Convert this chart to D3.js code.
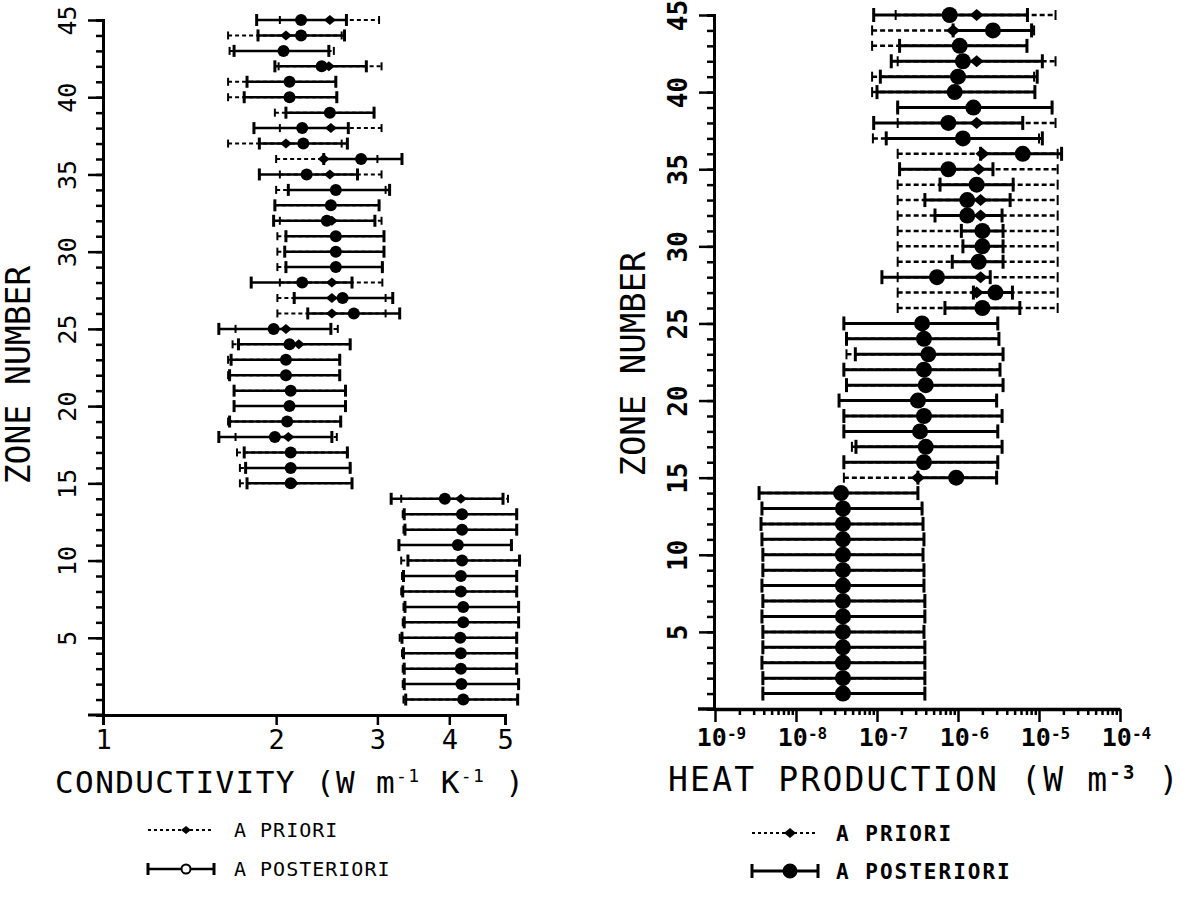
<!DOCTYPE html>
<html>
<head>
<meta charset="utf-8">
<script src="https://cdn.jsdelivr.net/npm/d3@7"></script>
<style>
body { margin: 0; background: #fff; }
text { font-family: "DejaVu Sans Mono", monospace; fill: #000; }
</style>
</head>
<body>
<div id="chart"></div>
<script>
// zones 1 .. 45, every array below is listed from zone 1 up to zone 45
const zones = d3.range(1, 46);

// thermal conductivity (W m-1 K-1)
const condPostLo = [3.36, 3.34, 3.34, 3.33, 3.31, 3.34, 3.35, 3.32, 3.33, 3.39, 3.27, 3.35, 3.34, 3.17,
    1.78, 1.77, 1.76, 1.59, 1.66, 1.69, 1.69, 1.66, 1.67, 1.72, 1.59,
    2.27, 2.15, 1.81, 2.08, 2.07, 2.08, 1.98, 1.99, 2.10, 1.87,
    2.42, 1.87, 1.83, 2.08, 1.76, 1.78, 1.99, 1.69, 1.86, 1.85];
const condPostC = [4.23, 4.20, 4.19, 4.19, 4.18, 4.23, 4.23, 4.19, 4.19, 4.21, 4.14, 4.21, 4.21, 3.93,
    2.12, 2.12, 2.12, 1.99, 2.09, 2.11, 2.12, 2.08, 2.08, 2.11, 1.98,
    2.73, 2.61, 2.22, 2.54, 2.54, 2.54, 2.45, 2.49, 2.54, 2.26,
    2.81, 2.23, 2.22, 2.48, 2.11, 2.11, 2.40, 2.06, 2.21, 2.21];
const condPostHi = [5.26, 5.28, 5.24, 5.24, 5.24, 5.28, 5.28, 5.24, 5.24, 5.30, 5.13, 5.24, 5.24, 4.96,
    2.71, 2.69, 2.66, 2.50, 2.59, 2.64, 2.64, 2.58, 2.58, 2.69, 2.49,
    3.28, 3.19, 2.71, 3.06, 3.08, 3.08, 2.97, 3.02, 3.15, 2.77,
    3.31, 2.66, 2.67, 2.96, 2.55, 2.54, 2.87, 2.47, 2.63, 2.65];
const condPriorLo = [3.33, 3.32, 3.32, 3.31, 3.28, 3.32, 3.33, 3.30, 3.31, 3.30, 3.27, 3.33, 3.32, 3.30,
    1.73, 1.73, 1.71, 1.70, 1.65, 1.69, 1.69, 1.65, 1.65, 1.68, 1.70,
    2.01, 2.01, 2.03, 2.01, 2.01, 2.01, 2.03, 1.99, 2.00, 2.03,
    2.00, 1.65, 2.03, 1.99, 1.65, 1.65, 2.02, 1.66, 1.65, 2.03];
const condPriorC = [4.23, 4.20, 4.19, 4.19, 4.18, 4.23, 4.23, 4.19, 4.19, 4.21, 4.14, 4.21, 4.21, 4.19,
    2.14, 2.12, 2.12, 2.10, 2.09, 2.11, 2.12, 2.08, 2.08, 2.19, 2.08,
    2.50, 2.50, 2.50, 2.54, 2.54, 2.54, 2.50, 2.49, 2.54, 2.48,
    2.42, 2.08, 2.49, 2.48, 2.11, 2.11, 2.47, 2.06, 2.08, 2.48];
const condPriorHi = [5.26, 5.28, 5.24, 5.24, 5.24, 5.28, 5.28, 5.24, 5.24, 5.30, 5.13, 5.24, 5.24, 5.06,
    2.71, 2.69, 2.66, 2.55, 2.59, 2.64, 2.64, 2.58, 2.58, 2.69, 2.56,
    3.10, 3.10, 3.06, 3.06, 3.08, 3.08, 3.05, 3.02, 3.10, 3.05,
    3.00, 2.60, 3.05, 2.96, 2.55, 2.54, 3.05, 2.52, 2.60, 3.02];

// heat production (W m-3)
const heatPostLo = [3.9e-9, 3.9e-9, 3.8e-9, 3.9e-9, 3.9e-9, 3.8e-9, 3.9e-9, 3.8e-9, 3.9e-9, 3.9e-9, 3.8e-9, 3.7e-9, 3.8e-9, 3.5e-9,
    3.2e-7, 3.9e-8, 5.5e-8, 3.9e-8, 3.9e-8, 3.4e-8, 4.2e-8, 3.9e-8, 5.4e-8, 4.2e-8, 3.9e-8,
    6.9e-7, 1.55e-6, 1.15e-7, 8.5e-7, 1.15e-6, 1.1e-6, 5.2e-7, 3.9e-7, 6.0e-7, 1.9e-7,
    1.9e-6, 1.3e-7, 9.1e-8, 1.8e-7, 1.0e-7, 1.1e-7, 1.5e-7, 1.9e-7, 8.7e-7, 9.1e-8];
const heatPostC = [3.8e-8, 3.8e-8, 3.8e-8, 3.8e-8, 3.8e-8, 3.8e-8, 3.8e-8, 3.8e-8, 3.8e-8, 3.8e-8, 3.8e-8, 3.8e-8, 3.8e-8, 3.6e-8,
    9.5e-7, 3.8e-7, 4.0e-7, 3.4e-7, 3.8e-7, 3.2e-7, 4.0e-7, 3.8e-7, 4.3e-7, 3.8e-7, 3.6e-7,
    2.0e-6, 2.9e-6, 5.5e-7, 1.8e-6, 2.0e-6, 2.0e-6, 1.3e-6, 1.3e-6, 1.7e-6, 7.6e-7,
    6.3e-6, 1.15e-6, 7.6e-7, 1.55e-6, 9.1e-7, 1.0e-6, 1.15e-6, 1.05e-6, 2.7e-6, 7.9e-7];
const heatPostHi = [3.9e-7, 3.9e-7, 3.9e-7, 3.9e-7, 3.8e-7, 3.9e-7, 3.9e-7, 3.8e-7, 3.8e-7, 3.7e-7, 3.8e-7, 3.7e-7, 3.6e-7, 3.2e-7,
    3.0e-6, 3.1e-6, 3.5e-6, 3.1e-6, 3.5e-6, 3.0e-6, 3.6e-6, 3.3e-6, 3.6e-6, 3.2e-6, 3.1e-6,
    5.8e-6, 4.7e-6, 2.5e-6, 3.6e-6, 3.6e-6, 3.6e-6, 3.5e-6, 4.4e-6, 4.8e-6, 2.7e-6,
    1.9e-5, 1.1e-5, 6.3e-6, 1.45e-5, 8.9e-6, 9.5e-6, 1.1e-5, 7.1e-6, 8.1e-6, 7.2e-6];
const heatPriorLo = [3.9e-9, 3.9e-9, 3.8e-9, 3.9e-9, 3.9e-9, 3.8e-9, 3.9e-9, 3.8e-9, 3.9e-9, 3.9e-9, 3.8e-9, 3.7e-9, 3.8e-9, 3.5e-9,
    3.9e-8, 3.9e-8, 4.9e-8, 3.9e-8, 3.9e-8, 3.4e-8, 4.2e-8, 3.9e-8, 4.2e-8, 4.2e-8, 3.9e-8,
    1.8e-7, 1.8e-7, 1.8e-7, 1.8e-7, 1.8e-7, 1.8e-7, 1.8e-7, 1.8e-7, 1.8e-7, 1.9e-7,
    1.8e-7, 8.9e-8, 1.8e-7, 1.8e-7, 8.7e-8, 8.7e-8, 1.8e-7, 8.7e-8, 8.7e-8, 1.7e-7];
const heatPriorC = [3.8e-8, 3.8e-8, 3.8e-8, 3.8e-8, 3.8e-8, 3.8e-8, 3.8e-8, 3.8e-8, 3.8e-8, 3.8e-8, 3.8e-8, 3.8e-8, 3.8e-8, 3.6e-8,
    3.2e-7, 3.8e-7, 4.0e-7, 3.4e-7, 3.8e-7, 3.2e-7, 4.0e-7, 3.8e-7, 4.3e-7, 3.8e-7, 3.6e-7,
    1.9e-6, 1.7e-6, 1.9e-6, 1.8e-6, 2.0e-6, 2.0e-6, 1.9e-6, 1.9e-6, 1.7e-6, 1.8e-6,
    2.0e-6, 1.15e-6, 1.7e-6, 1.55e-6, 9.1e-7, 1.0e-6, 1.7e-6, 1.05e-6, 8.7e-7, 1.7e-6];
const heatPriorHi = [3.9e-7, 3.9e-7, 3.9e-7, 3.9e-7, 3.8e-7, 3.9e-7, 3.9e-7, 3.8e-7, 3.8e-7, 3.7e-7, 3.8e-7, 3.7e-7, 3.6e-7, 3.2e-7,
    3.0e-6, 3.1e-6, 3.5e-6, 3.1e-6, 3.5e-6, 3.0e-6, 3.6e-6, 3.3e-6, 3.6e-6, 3.2e-6, 3.1e-6,
    1.7e-5, 1.7e-5, 1.7e-5, 1.7e-5, 1.7e-5, 1.7e-5, 1.7e-5, 1.7e-5, 1.7e-5, 1.7e-5,
    1.7e-5, 1.0e-5, 1.6e-5, 1.45e-5, 8.9e-6, 8.7e-6, 1.6e-5, 7.1e-6, 8.7e-6, 1.6e-5];

const condTicks = [1, 2, 3, 4, 5];
const heatTicks = [1e-9, 1e-8, 1e-7, 1e-6, 1e-5, 1e-4];
const zoneTicks = [5, 10, 15, 20, 25, 30, 35, 40, 45];
const legendLabels = ["A PRIORI", "A POSTERIORI"];

const svg = d3.select("#chart").append("svg")
    .attr("width", 1183)
    .attr("height", 900);

// scales (pixel ranges taken from the scanned figure)
let xCond = d3.scaleLog().domain([1, 5]).range([103, 505]),
    yCond = d3.scaleLinear().domain([0, 45]).range([715, 20]),
    xHeat = d3.scaleLog().domain([1e-9, 1e-4]).range([715, 1120]),
    yHeat = d3.scaleLinear().domain([0, 45]).range([709, 15]);

const diamond = (w, h) => `M${-w},0L0,${-h}L${w},0L0,${h}Z`;

function makeRows(pLo, pC, pHi, qLo, qC, qHi) {
    return zones.map((z, i) => ({
        zone: z,
        priorLo: pLo[i], priorC: pC[i], priorHi: pHi[i],
        postLo: qLo[i], postC: qC[i], postHi: qHi[i]
    }));
}

function drawBars(g, rows, x, y, st) {
    // a priori: dotted line with small end marks
    g.append("g").selectAll("line")
        .data(rows)
        .join("line")
        .attr("x1", d => x(d.priorLo))
        .attr("x2", d => x(d.priorHi))
        .attr("y1", d => y(d.zone))
        .attr("y2", d => y(d.zone))
        .attr("stroke", "#000")
        .attr("stroke-width", st.dotW)
        .attr("stroke-dasharray", st.dash);
    ["priorLo", "priorHi"].forEach(k => {
        g.append("g").selectAll("line")
            .data(rows)
            .join("line")
            .attr("x1", d => x(d[k]))
            .attr("x2", d => x(d[k]))
            .attr("y1", d => y(d.zone) - st.smallCap)
            .attr("y2", d => y(d.zone) + st.smallCap)
            .attr("stroke", "#000")
            .attr("stroke-width", 2);
    });

    // a posteriori: solid line with end caps
    g.append("g").selectAll("line")
        .data(rows)
        .join("line")
        .attr("x1", d => x(d.postLo))
        .attr("x2", d => x(d.postHi))
        .attr("y1", d => y(d.zone))
        .attr("y2", d => y(d.zone))
        .attr("stroke", "#000")
        .attr("stroke-width", st.lineW);
    ["postLo", "postHi"].forEach(k => {
        g.append("g").selectAll("line")
            .data(rows)
            .join("line")
            .attr("x1", d => x(d[k]))
            .attr("x2", d => x(d[k]))
            .attr("y1", d => y(d.zone) - st.cap)
            .attr("y2", d => y(d.zone) + st.cap)
            .attr("stroke", "#000")
            .attr("stroke-width", 3);
    });

    g.append("g").selectAll("path")
        .data(rows)
        .join("path")
        .attr("transform", d => `translate(${x(d.priorC)},${y(d.zone)})`)
        .attr("d", diamond(st.dw, st.dh))
        .attr("fill", "#000");

    g.append("g").selectAll("circle")
        .data(rows)
        .join("circle")
        .attr("cx", d => x(d.postC))
        .attr("cy", d => y(d.zone))
        .attr("r", st.r)
        .attr("fill", "#000");
}

function zoneAxis(g, y, axisX, labelWeight, labelSize) {
    let minor = g.append("g")
        .attr("transform", `translate(${axisX},0)`)
        .call(d3.axisLeft(y).tickValues(d3.range(1, 46)).tickSize(7).tickFormat(""));
    minor.select(".domain").attr("stroke-width", 3);
    minor.selectAll(".tick line").attr("stroke-width", 2.5);

    let major = g.append("g")
        .attr("transform", `translate(${axisX},0)`)
        .call(d3.axisLeft(y).tickValues(zoneTicks).tickSize(15).tickSizeOuter(0));
    major.select(".domain").remove();
    major.selectAll(".tick line").attr("stroke-width", 2.5);
    major.selectAll(".tick text")
        .attr("transform", "rotate(-90)")
        .attr("x", 0)
        .attr("y", -36)
        .attr("dy", "0.36em")
        .attr("text-anchor", "middle")
        .attr("font-size", labelSize)
        .attr("font-weight", labelWeight)
        .attr("font-family", "DejaVu Sans Mono");
}

// ---------- conductivity panel ----------
let gLeft = svg.append("g");

zoneAxis(gLeft, yCond, 103, "normal", 25);

let xAxisCond = gLeft.append("g")
    .attr("transform", `translate(0,${yCond(0)})`)
    .call(d3.axisBottom(xCond).tickValues(condTicks).tickFormat(d3.format("d")).tickSize(10).tickPadding(5));
xAxisCond.select(".domain").attr("stroke-width", 3);
xAxisCond.selectAll(".tick line").attr("stroke-width", 2.5);
xAxisCond.selectAll(".tick text")
    .attr("font-size", 27)
    .attr("font-family", "DejaVu Sans Mono");
gLeft.append("line")
    .attr("x1", xCond(1) - 15).attr("x2", xCond(1))
    .attr("y1", yCond(0)).attr("y2", yCond(0))
    .attr("stroke", "#000").attr("stroke-width", 3);

drawBars(gLeft, makeRows(condPriorLo, condPriorC, condPriorHi, condPostLo, condPostC, condPostHi),
    xCond, yCond, { dotW: 2, dash: "4,3", smallCap: 4, lineW: 2.5, cap: 6, dw: 6, dh: 5, r: 6 });

gLeft.append("text")
    .attr("transform", "translate(30,375) rotate(-90)")
    .attr("text-anchor", "middle")
    .attr("font-size", 33)
    .attr("fill", "#444")
    .text("ZONE NUMBER");

let tCond = gLeft.append("text")
    .attr("x", 55).attr("y", 793)
    .attr("font-size", 31)
    .attr("letter-spacing", 1.4);
tCond.append("tspan").text("CONDUCTIVITY (W m");
tCond.append("tspan").attr("dy", -11).attr("font-size", 18).text("-1");
tCond.append("tspan").attr("dy", 11).text(" K");
tCond.append("tspan").attr("dy", -11).attr("font-size", 18).text("-1");
tCond.append("tspan").attr("dy", 11).text(" )");

// ---------- heat production panel ----------
let gRight = svg.append("g");

zoneAxis(gRight, yHeat, 714, "bold", 26);

let minorHeat = [];
heatTicks.slice(0, -1).forEach(t => d3.range(2, 10).forEach(m => minorHeat.push(t * m)));
let xMinorHeat = gRight.append("g")
    .attr("transform", `translate(0,${yHeat(0)})`)
    .call(d3.axisBottom(xHeat).tickValues(minorHeat).tickFormat("").tickSize(6).tickSizeOuter(0));
xMinorHeat.select(".domain").attr("stroke-width", 3.5);
xMinorHeat.selectAll(".tick line").attr("stroke-width", 2.5);

let xAxisHeat = gRight.append("g")
    .attr("transform", `translate(0,${yHeat(0)})`)
    .call(d3.axisBottom(xHeat).tickValues(heatTicks).tickSize(13).tickPadding(6).tickSizeOuter(0));
xAxisHeat.select(".domain").remove();
xAxisHeat.selectAll(".tick line").attr("stroke-width", 2.5);
xAxisHeat.selectAll(".tick text")
    .attr("font-size", 25)
    .attr("font-weight", "bold")
    .attr("font-family", "DejaVu Sans Mono")
    .attr("dx", 6)
    .each(function (d) {
        let t = d3.select(this).text("");
        t.append("tspan").text("10");
        t.append("tspan").attr("dy", "-0.45em").attr("font-size", 16).text(Math.round(Math.log10(d)));
    });
gRight.append("line")
    .attr("x1", xHeat(1e-9) - 17).attr("x2", xHeat(1e-9))
    .attr("y1", yHeat(0)).attr("y2", yHeat(0))
    .attr("stroke", "#000").attr("stroke-width", 3.5);

drawBars(gRight, makeRows(heatPriorLo, heatPriorC, heatPriorHi, heatPostLo, heatPostC, heatPostHi),
    xHeat, yHeat, { dotW: 2.5, dash: "5,3", smallCap: 5, lineW: 3, cap: 7, dw: 7, dh: 6, r: 8 });

gRight.append("text")
    .attr("transform", "translate(645,364) rotate(-90)")
    .attr("text-anchor", "middle")
    .attr("font-size", 34)
    .text("ZONE NUMBER");

let tHeat = gRight.append("text")
    .attr("x", 668).attr("y", 791)
    .attr("font-size", 33)
    .attr("letter-spacing", 2.2);
tHeat.append("tspan").text("HEAT PRODUCTION (W m");
tHeat.append("tspan").attr("dy", -12).attr("font-size", 19).attr("font-weight", "bold").text("-3");
tHeat.append("tspan").attr("dy", 12).text(" )");

// ---------- legends ----------
function legend(g, x0, y0, gap, st) {
    let items = g.selectAll("g.leg")
        .data(legendLabels)
        .join("g")
        .attr("class", "leg")
        .attr("transform", (d, i) => `translate(${x0},${y0 + i * gap})`);

    items.append("line")
        .attr("x1", 0).attr("x2", st.len)
        .attr("stroke", "#000")
        .attr("stroke-width", (d, i) => i ? st.lineW : 2)
        .attr("stroke-dasharray", (d, i) => i ? null : "3,3");

    let post = items.filter((d, i) => i === 1);
    post.append("line").attr("y1", -st.cap).attr("y2", st.cap).attr("stroke", "#000").attr("stroke-width", 3);
    post.append("line").attr("x1", st.len).attr("x2", st.len).attr("y1", -st.cap).attr("y2", st.cap)
        .attr("stroke", "#000").attr("stroke-width", 3);
    post.append("circle")
        .attr("cx", st.mark).attr("r", st.r)
        .attr("fill", st.open ? "#fff" : "#000")
        .attr("stroke", "#000").attr("stroke-width", 2);

    items.filter((d, i) => i === 0).append("path")
        .attr("transform", `translate(${st.mark},0)`)
        .attr("d", diamond(st.dw, st.dh))
        .attr("fill", "#000");

    items.append("text")
        .attr("x", st.tx)
        .attr("dy", "0.36em")
        .attr("font-size", st.fs)
        .attr("font-weight", st.fw)
        .attr("letter-spacing", st.ls)
        .text(d => d);
}

legend(svg.append("g"), 148, 830, 39, { len: 66, lineW: 2.5, cap: 6, mark: 38, r: 4.5, open: true, dw: 5, dh: 4, tx: 86, fs: 20, fw: "normal", ls: 1 });
legend(svg.append("g"), 752, 833, 38, { len: 66, lineW: 3, cap: 7, mark: 38, r: 6.5, open: false, dw: 6, dh: 5, tx: 84, fs: 21, fw: "bold", ls: 2 });
</script>
</body>
</html>
